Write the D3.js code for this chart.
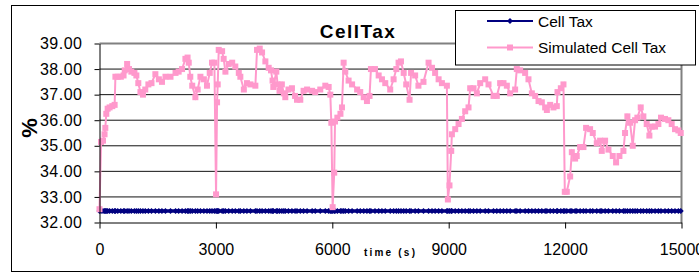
<!DOCTYPE html>
<html>
<head>
<meta charset="utf-8">
<script src="https://cdn.jsdelivr.net/npm/d3@7"></script>
<style>
  html, body { margin: 0; padding: 0; background: #fff; }
  svg { display: block; font-family: "Liberation Sans", Arial, sans-serif; }
</style>
</head>
<body>
<svg id="chart" width="699" height="273"></svg>
<script>
// chart data
var title = 'CellTax'
var xLabel = 'time (s)'
var yLabel = '%'
var seriesNames = ['Cell Tax', 'Simulated Cell Tax']
var xTicks = [0, 3000, 6000, 9000, 12000, 15000]
var yTicks = [32, 33, 34, 35, 36, 37, 38, 39]

// Cell Tax stays flat for the whole run
var cellTaxLevel = 32.45

var simTime = [
  0, 40, 90, 130, 150, 175, 210, 260, 330, 390,
  410, 470, 550, 620, 650, 712, 760, 820, 900, 950,
  1000, 1055, 1120, 1180, 1260, 1340, 1440, 1530, 1610, 1700,
  1830, 1960, 2040, 2128, 2214, 2270, 2300, 2340, 2390, 2471,
  2530, 2601, 2690, 2770, 2841, 2900, 2961, 3004, 3030, 3047,
  3073, 3160, 3200, 3245, 3330, 3420, 3500, 3590, 3630, 3720,
  3800, 3890, 4017, 4060, 4130, 4190, 4275, 4360, 4420, 4460,
  4480, 4557, 4590, 4640, 4700, 4750, 4789, 4870, 4960, 5040,
  5090, 5175, 5260, 5350, 5480, 5560, 5690, 5820, 5906, 5949,
  5975, 6009, 6050, 6070, 6130, 6210, 6249, 6292, 6335, 6420,
  6510, 6640, 6720, 6810, 6893, 6960, 6996, 7100, 7195, 7280,
  7365, 7493, 7580, 7650, 7708, 7770, 7840, 7905, 7991, 8030,
  8135, 8220, 8350, 8481, 8570, 8650, 8740, 8825, 8953, 8979,
  9020, 9065, 9082, 9168, 9254, 9340, 9425, 9511, 9554, 9640,
  9726, 9812, 9940, 10026, 10155, 10240, 10326, 10412, 10498, 10584,
  10712, 10755, 10841, 10970, 11056, 11143, 11229, 11315, 11400, 11486,
  11530, 11615, 11700, 11786, 11804, 11890, 11958, 11992, 12044, 12130,
  12173, 12258, 12300, 12387, 12473, 12541, 12644, 12713, 12816, 12902,
  12945, 13031, 13117, 13228, 13314, 13400, 13503, 13545, 13605, 13674,
  13743, 13803, 13863, 13949, 14017, 14103, 14172, 14232, 14318, 14404,
  14472, 14575, 14661, 14747, 14833, 14919, 14980
]
var simTax = [
  32.52, 35.15, 35.2, 35.45, 35.7, 36.25, 36.45, 36.5, 36.55, 36.6,
  37.7, 37.7, 37.7, 37.75, 37.95, 38.2, 38.0, 37.9, 37.85, 37.75,
  37.45, 37.1, 37.0, 37.2, 37.4, 37.45, 37.8, 37.6, 37.5, 37.7,
  37.7, 37.85, 37.9, 38.0, 38.4, 38.45, 38.25, 37.7, 37.35, 36.9,
  37.2, 37.7, 37.6, 37.35, 37.85, 38.25, 38.25, 33.1, 36.7, 37.4,
  38.75, 38.7, 38.4, 37.9, 38.2, 38.25, 38.1, 37.85, 37.7, 37.2,
  37.45, 37.4, 37.35, 38.75, 38.8, 38.65, 38.3, 38.05, 37.95, 37.55,
  37.3, 37.9, 37.4, 37.15, 37.4, 37.05, 36.9, 37.2, 37.25, 36.95,
  36.8, 36.8, 37.15, 37.2, 37.15, 37.1, 37.2, 37.35, 37.3, 37.0,
  35.9, 32.6, 33.95, 35.95, 36.1, 36.25, 36.5, 38.25, 37.9, 37.55,
  37.4, 37.2, 37.1, 36.9, 36.75, 36.95, 38.0, 38.0, 37.75, 37.6,
  37.45, 37.2, 37.6, 38.0, 38.25, 38.3, 37.85, 37.4, 36.8, 37.85,
  37.75, 37.35, 37.5, 38.25, 38.05, 37.85, 37.6, 37.45, 37.35, 32.9,
  33.45, 34.8, 35.45, 35.65, 35.85, 36.05, 36.35, 36.5, 37.25, 37.25,
  37.05, 37.45, 37.6, 37.4, 36.95, 36.95, 37.45, 37.45, 37.35, 37.05,
  37.2, 38.0, 37.95, 37.85, 37.6, 37.05, 36.95, 36.75, 36.7, 36.5,
  36.4, 36.6, 36.5, 36.55, 37.1, 37.25, 37.4, 33.2, 33.2, 33.8,
  34.75, 34.5, 34.6, 34.95, 34.95, 35.7, 35.65, 35.5, 35.1, 35.2,
  34.8, 35.2, 34.85, 34.6, 34.35, 34.6, 34.8, 35.5, 36.15, 35.9,
  35.0, 36.0, 36.1, 36.5, 36.15, 35.85, 35.4, 35.75, 35.75, 35.85,
  36.1, 36.05, 36.0, 35.85, 35.65, 35.6, 35.5
]

var navy = '#000080', pink = '#ff99cc'

var svg = d3.select('#chart')

var x = d3.scaleLinear().domain([0, 15000]).range([99.5, 681.5]),
	y = d3.scaleLinear().domain([32, 39]).range([222.5, 43.5])

// outer chart frame (runs off the right edge like the original)
svg.append('rect')
	.attr('x', 11.5).attr('y', 5.5)
	.attr('width', 720).attr('height', 266)
	.attr('fill', '#fff').attr('stroke', '#000')

// gridlines
svg.append('g').selectAll('line').data(yTicks.slice(1, -1))
	.enter().append('line')
	.attr('x1', x(0)).attr('x2', x(15000))
	.attr('y1', y).attr('y2', y)
	.attr('stroke', '#111').attr('stroke-width', 1)

// plot frame top + right in grey
svg.append('path')
	.attr('d', 'M' + x(0) + ',' + y(39) + 'H' + x(15000) + 'V' + y(32))
	.attr('fill', 'none').attr('stroke', '#808080').attr('stroke-width', 2)

// Cell Tax, flat line with diamond markers
var flat = simTime.map(function(t) { return [t, cellTaxLevel] })
svg.append('path')
	.datum(flat)
	.attr('d', d3.line().x(function(d) { return x(d[0]) }).y(function(d) { return y(d[1]) }))
	.attr('fill', 'none').attr('stroke', navy).attr('stroke-width', 3.5)
svg.append('g').selectAll('path').data(flat)
	.enter().append('path')
	.attr('d', function(d) { return diamond(x(d[0]), y(d[1]), 3) })
	.attr('fill', navy)

// Simulated Cell Tax
var sim = simTime.map(function(t, i) { return [t, simTax[i]] })
svg.append('path')
	.datum(sim)
	.attr('d', d3.line().x(function(d) { return x(d[0]) }).y(function(d) { return y(d[1]) }))
	.attr('fill', 'none').attr('stroke', pink).attr('stroke-width', 2)
svg.append('g').selectAll('rect').data(sim)
	.enter().append('rect')
	.attr('x', function(d) { return x(d[0]) - 3 })
	.attr('y', function(d) { return y(d[1]) - 3 })
	.attr('width', 6).attr('height', 6)
	.attr('fill', pink)

// axes
var xAxis = svg.append('g')
	.attr('transform', 'translate(0,' + y(32) + ')')
	.call(d3.axisBottom(x).tickValues(xTicks).tickFormat(d3.format('d'))
		.tickSize(6).tickSizeOuter(0).tickPadding(15))
var yAxis = svg.append('g')
	.attr('transform', 'translate(' + x(0) + ',0)')
	.call(d3.axisLeft(y).tickValues(yTicks).tickFormat(d3.format('.2f'))
		.tickSize(5).tickSizeOuter(0).tickPadding(12))

;[xAxis, yAxis].forEach(function(ax) {
	ax.select('.domain').attr('stroke', '#000')
	ax.selectAll('.tick line').attr('stroke', '#000')
	ax.selectAll('text')
		.attr('fill', '#000')
		.style('font-size', '16px')
		.style('font-family', '"Liberation Sans", Arial, sans-serif')
})
yAxis.selectAll('text').style('letter-spacing', '0.5px')

// titles
svg.append('text')
	.attr('x', 358).attr('y', 38.3)
	.attr('text-anchor', 'middle')
	.style('font-size', '19px').style('font-weight', 'bold')
	.style('letter-spacing', '1.5px')
	.text(title)

svg.append('text')
	.attr('x', 364).attr('y', 255.5)
	.style('font-size', '10px').style('font-weight', 'bold')
	.style('letter-spacing', '2.2px')
	.text(xLabel)

svg.append('text')
	.attr('transform', 'translate(37,128) rotate(-90)')
	.attr('text-anchor', 'middle')
	.style('font-size', '22px').style('font-weight', 'bold')
	.text(yLabel)

// legend
var legend = svg.append('g')
legend.append('rect')
	.attr('x', 455.5).attr('y', 10.5)
	.attr('width', 240).attr('height', 54.5)
	.attr('fill', '#fff').attr('stroke', '#000')

var rows = [
	{ name: seriesNames[0], color: navy, y: 21, mark: 'diamond' },
	{ name: seriesNames[1], color: pink, y: 47.5, mark: 'square' }
]
rows.forEach(function(r) {
	legend.append('line')
		.attr('x1', 487).attr('x2', 533)
		.attr('y1', r.y).attr('y2', r.y)
		.attr('stroke', r.color).attr('stroke-width', 2)
	if (r.mark === 'diamond')
		legend.append('path').attr('d', diamond(510, r.y, 3)).attr('fill', r.color)
	else
		legend.append('rect').attr('x', 507).attr('y', r.y - 3)
			.attr('width', 6).attr('height', 6).attr('fill', r.color)
	legend.append('text')
		.attr('x', 538).attr('y', r.y + 5.5)
		.style('font-size', '15.5px')
		.text(r.name)
})

function diamond(cx, cy, r) {
	return 'M' + cx + ',' + (cy - r) + 'L' + (cx + r) + ',' + cy +
		'L' + cx + ',' + (cy + r) + 'L' + (cx - r) + ',' + cy + 'Z'
}
</script>
</body>
</html>
